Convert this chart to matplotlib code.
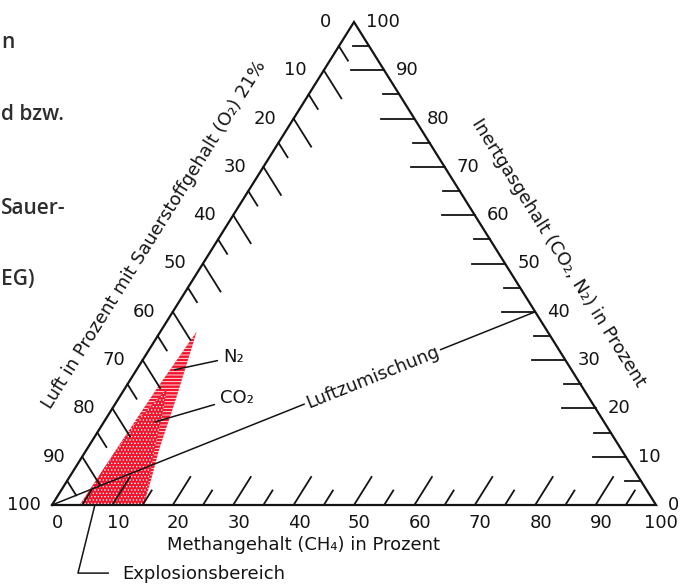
import numpy as np
import matplotlib
matplotlib.use('Agg')
import matplotlib.pyplot as plt

plt.rcParams['font.family'] = ['DejaVu Sans']
plt.rcParams['hatch.linewidth'] = 0.6

# Skalen (Prozent)
major = [10, 20, 30, 40, 50, 60, 70, 80, 90]
minor = [5, 15, 25, 35, 45, 55, 65, 75, 85, 95]
labels = [0, 10, 20, 30, 40, 50, 60, 70, 80, 90, 100]

# Explosionsbereich als (Methan %, Inertgas %)
n2_methan = [4.6, 4.9, 5.3, 6.0, 8.0, 9.6, 12.0, 13.6, 15.2]
n2_inert = [0.0, 12.0, 24.0, 35.9, 28.0, 21.7, 11.4, 5.9, 0.0]
co2_methan = [4.6, 4.9, 5.5, 7.0, 8.8, 10.9, 13.2, 15.2]
co2_inert = [0.0, 10.0, 18.0, 24.0, 19.0, 12.5, 5.9, 0.0]

# Luftzumischung: von 100 % Luft bis 40 % Inertgas
mix_methan = [0, 60]
mix_inert = [0, 40]

# Textreste am linken Rand (abgeschnittenes Dokument)
side_text = ['n', 'd bzw.', 'Sauer-', 'EG)']
side_y = [43, 114, 209, 279]


def tern(c, i):
    c = np.asarray(c, dtype=float)
    i = np.asarray(i, dtype=float)
    return c + i / 2, i


fig = plt.figure(figsize=(6.87, 5.84), dpi=100)
ax = fig.add_axes([0, 0, 1, 1])
ax.set_xlim(-52 / 6.04, (687 - 52) / 6.04)
ax.set_ylim(-(584 - 505) / 4.83, 505 / 4.83)
ax.set_axis_off()

ink = '#141414'
red = '#f3142c'

# Explosionsbereich
x, y = tern(n2_methan, n2_inert)
ax.fill(x, y, color=red, lw=0, zorder=2)
ax.fill(x, y, fill=False, hatch='-----', edgecolor='white', lw=0, zorder=3)
x, y = tern(co2_methan, co2_inert)
ax.fill(x, y, color=red, lw=0, zorder=4)
ax.fill(x, y, fill=False, hatch='.....', edgecolor='white', lw=0, zorder=5)

# Dreieck
x, y = tern([0, 100, 0, 0], [0, 0, 100, 0])
ax.plot(x, y, color=ink, lw=1.6, solid_joinstyle='miter', zorder=6)

# Teilstriche
for vals, L, Lr in [(major, 5.8, 5.5), (minor, 3.0, 2.7)]:
    for v in vals:
        # unten (Methan)
        x, y = tern([v, v], [0, L])
        ax.plot(x, y, color=ink, lw=1.3, zorder=6)
        # links (Luft)
        i = 100 - v
        x, y = tern([0, L], [i, i - L])
        ax.plot(x, y, color=ink, lw=1.3, zorder=6)
        # rechts (Inertgas)
        x, y = tern([100 - v, 100 - v - Lr], [v, v])
        ax.plot(x, y, color=ink, lw=1.3, zorder=6)

fs = 13
for v in labels:
    x, y = tern(v, 0)
    ax.text(x + 0.9, y - 3.8, str(v), ha='center', va='center', fontsize=fs, color=ink)
    x, y = tern(0, 100 - v)
    ax.text(x - 4.7, y, str(v), ha='center', va='center', fontsize=fs, color=ink)
    x, y = tern(100 - v, v)
    ax.text(x + 2.0, y, str(v), ha='left', va='center', fontsize=fs, color=ink)

# Winkel der Kanten in Pixeln
p = ax.transData.transform([tern(0, 0), tern(0, 100), tern(100, 0)])
ang_left = np.degrees(np.arctan2(p[1, 1] - p[0, 1], p[1, 0] - p[0, 0]))
ang_right = np.degrees(np.arctan2(p[1, 1] - p[2, 1], p[1, 0] - p[2, 0])) - 180

ax.text(17.0, 56.0, 'Luft in Prozent mit Sauerstoffgehalt (O₂) 21%', rotation=ang_left,
        rotation_mode='anchor', ha='center', va='center', fontsize=fs, color=ink)
ax.text(83.8, 52.2, 'Inertgasgehalt (CO₂, N₂) in Prozent', rotation=ang_right,
        rotation_mode='anchor', ha='center', va='center', fontsize=fs, color=ink)
ax.text(41.7, -8.3, 'Methangehalt (CH₄) in Prozent', ha='center', va='center',
        fontsize=fs, color=ink)

# Luftzumischung
x, y = tern(mix_methan, mix_inert)
ax.plot(x, y, color=ink, lw=1.1, zorder=7)
q = ax.transData.transform(np.column_stack([x, y]))
ang_mix = np.degrees(np.arctan2(q[1, 1] - q[0, 1], q[1, 0] - q[0, 0]))
t = 0.663
ax.text(x[0] + t * (x[1] - x[0]), y[0] + t * (y[1] - y[0]), 'Luftzumischung',
        rotation=ang_mix, rotation_mode='anchor', ha='center', va='center',
        fontsize=fs, color=ink, zorder=8,
        bbox=dict(boxstyle='square,pad=0.1', fc='white', ec='none'))

# Beschriftungen im Explosionsbereich
ax.annotate('N₂', xy=tern(6.3, 28.0), xytext=(28.3, 30.6), ha='left', va='center',
            fontsize=fs, color=ink, zorder=8,
            arrowprops=dict(arrowstyle='-', color=ink, lw=1.1, shrinkA=2, shrinkB=0))
ax.annotate('CO₂', xy=tern(8.45, 17.2), xytext=(27.8, 22.15), ha='left', va='center',
            fontsize=fs, color=ink, zorder=8,
            arrowprops=dict(arrowstyle='-', color=ink, lw=1.1, shrinkA=2, shrinkB=0))

bx, by = tern(7.1, 0)
ax.plot([9.3, 4.3, bx], [-14.1, -14.1, by], color=ink, lw=1.1, zorder=7)
ax.text(11.6, -14.3, 'Explosionsbereich', ha='left', va='center', fontsize=fs, color=ink)

# Dokumenttext links
for s, yy in zip(side_text, side_y):
    fig.text(0.002, 1 - yy / 584, s, ha='left', va='center', fontsize=15,
             family=['Open Sans', 'DejaVu Sans'], fontweight='semibold', color='#2e2e2e')

fig.savefig('out.png', dpi=100)
